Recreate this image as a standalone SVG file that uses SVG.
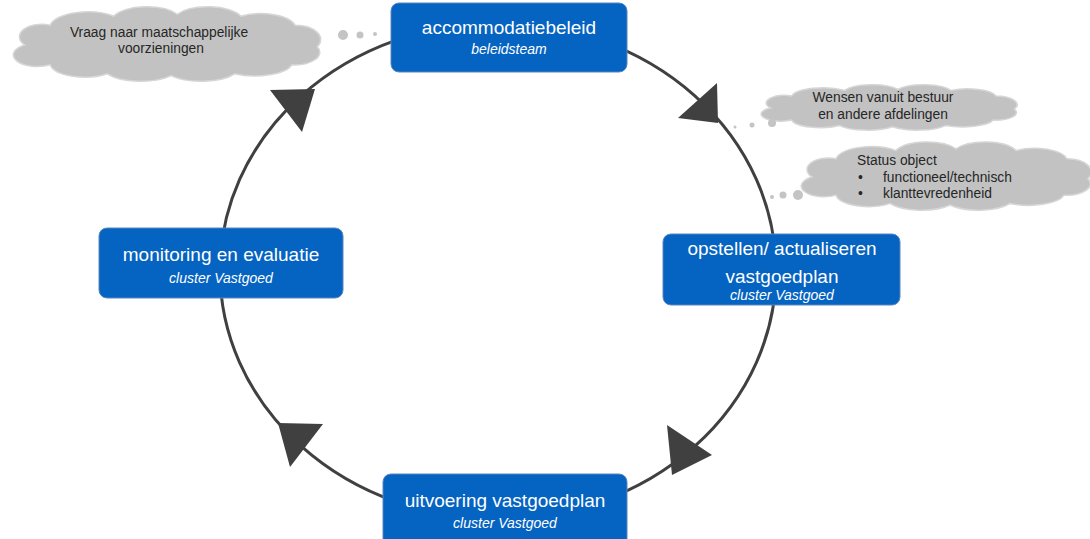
<svg xmlns="http://www.w3.org/2000/svg" width="1090" height="539" viewBox="0 0 1090 539">
<defs>
<style>
.box{fill:#0563c1;stroke:#5a86c0;stroke-width:1}
.t1{font-family:"Liberation Sans",Arial,sans-serif;font-size:19px;fill:#ffffff;text-anchor:middle}
.t2{font-family:"Liberation Sans",Arial,sans-serif;font-size:14px;font-style:italic;fill:#ffffff;text-anchor:middle}
.ct{font-family:"Liberation Sans",Arial,sans-serif;font-size:13.8px;fill:#262626}
.cloud{fill:#c2c2c2;stroke:#d6d6d6;stroke-width:1.5}
.dot{fill:#c4c4c4}
.ring{fill:none;stroke:#404040;stroke-width:3}
.head{fill:#404040}
</style>
<path id="cloudShape" vector-effect="non-scaling-stroke" d="M 4,20 A 7,7 0 0 1 12,9 A 12,9 0 0 1 32,4 A 11,8 0 0 1 52,3 A 11,8 0 0 1 72,4 A 11,8 0 0 1 89,9 A 8,8 0 0 1 96,21 A 8,7 0 0 1 88,31 A 12,8 0 0 1 70,36 A 12,8 0 0 1 50,37 A 12,8 0 0 1 30,36 A 11,8 0 0 1 12,31 A 7,6 0 0 1 4,20 Z"/>
</defs>
<rect width="1090" height="539" fill="#ffffff"/>

<g id="connectors">
<ellipse class="ring" cx="498" cy="271" rx="278" ry="248"/>
<polygon class="head" points="315,89 270,90 302,132"/>
<polygon class="head" points="718,123 717,83 678,118"/>
<polygon class="head" points="667,425 712,455 672,475"/>
<polygon class="head" points="278,423 323,424 290,467"/>
</g>

<g id="cloud-vraag">
<use href="#cloudShape" class="cloud" transform="translate(12,9) scale(3.18,1.8)"/>
<circle class="dot" cx="343" cy="35" r="5"/>
<circle class="dot" cx="360" cy="35" r="3.5"/>
<circle class="dot" cx="375" cy="34" r="2"/>
<text class="ct" x="159" y="37" text-anchor="middle">Vraag naar maatschappelijke</text>
<text class="ct" x="161" y="53" text-anchor="middle">voorzieningen</text>
</g>

<g id="cloud-wensen">
<use href="#cloudShape" class="cloud" transform="translate(760,86) scale(2.65,1.1)"/>
<circle class="dot" cx="772" cy="123" r="4"/>
<circle class="dot" cx="752" cy="125" r="2.5"/>
<circle class="dot" cx="735" cy="127" r="1.5"/>
<text class="ct" x="883" y="102" text-anchor="middle">Wensen vanuit bestuur</text>
<text class="ct" x="883" y="119" text-anchor="middle">en andere afdelingen</text>
</g>

<g id="cloud-status">
<use href="#cloudShape" class="cloud" transform="translate(800,144) scale(3.0,1.65)"/>
<circle class="dot" cx="798" cy="195" r="5"/>
<circle class="dot" cx="783" cy="195" r="3.5"/>
<circle class="dot" cx="772" cy="197" r="2"/>
<text class="ct" x="857" y="165">Status object</text>
<text class="ct" x="858" y="182">•</text>
<text class="ct" x="883" y="182">functioneel/technisch</text>
<text class="ct" x="858" y="198">•</text>
<text class="ct" x="883" y="198">klanttevredenheid</text>
</g>

<g id="node-accommodatiebeleid">
<rect class="box" x="391" y="3" width="236" height="69" rx="8"/>
<text class="t1" x="509" y="34">accommodatiebeleid</text>
<text class="t2" x="509" y="54">beleidsteam</text>
</g>

<g id="node-opstellen">
<rect class="box" x="663" y="234" width="237" height="71" rx="8"/>
<text class="t1" x="782" y="255">opstellen/ actualiseren</text>
<text class="t1" x="782" y="283">vastgoedplan</text>
<text class="t2" x="782" y="300">cluster Vastgoed</text>
</g>

<g id="node-uitvoering">
<rect class="box" x="383" y="474" width="244" height="80" rx="8"/>
<text class="t1" x="505" y="507">uitvoering vastgoedplan</text>
<text class="t2" x="505" y="528">cluster Vastgoed</text>
</g>

<g id="node-monitoring">
<rect class="box" x="99" y="228" width="244" height="70" rx="8"/>
<text class="t1" x="221" y="261">monitoring en evaluatie</text>
<text class="t2" x="221" y="283">cluster Vastgoed</text>
</g>
</svg>
